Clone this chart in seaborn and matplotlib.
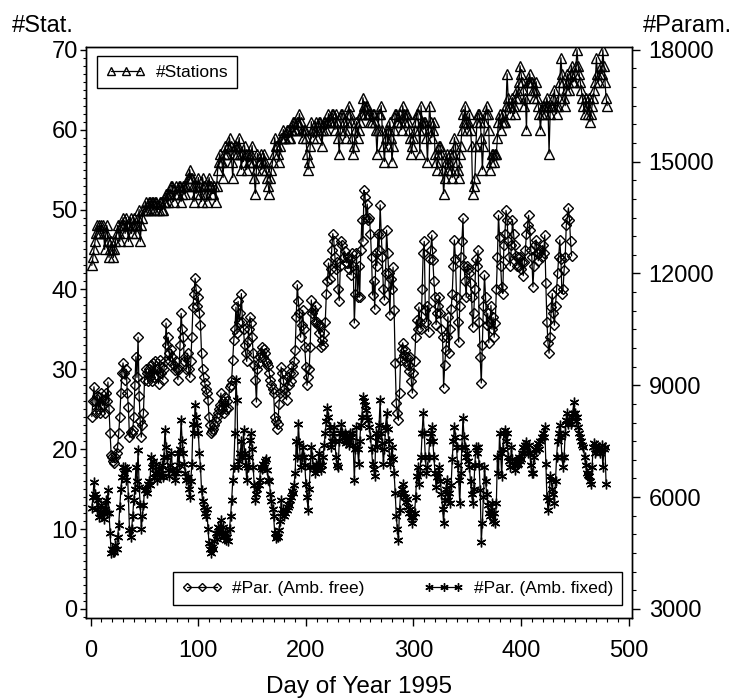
import numpy as np
import matplotlib
matplotlib.use('Agg')
import matplotlib.pyplot as plt
import seaborn as sns
from matplotlib.ticker import MultipleLocator
from matplotlib.lines import Line2D

# Anzahl Stationen pro Tag (linke Achse), Tag 1..480
stations = [
    43, 44, 45, 46, 47, 48, 47, 48, 47, 48, 48, 47, 45, 47, 48, 46, 44, 45, 46, 45,
    44, 45, 46, 47, 48, 47, 46, 48, 48, 49, 48, 47, 49, 48, 46, 48, 49, 47, 48, 49,
    48, 47, 48, 49, 50, 46, 48, 49, 50, 50, 51, 50, 50, 51, 51, 50, 51, 51, 50, 51,
    51, 50, 50, 51, 51, 50, 50, 51, 51, 52, 52, 51, 52, 52, 53, 53, 51, 52, 53, 52,
    52, 53, 53, 51, 52, 53, 53, 52, 53, 54, 54, 55, 54, 54, 53, 51, 53, 52, 53, 54,
    53, 52, 51, 54, 53, 53, 52, 51, 53, 54, 53, 53, 52, 52, 53, 51, 53, 55, 56, 57,
    56, 56, 54, 57, 58, 57, 57, 58, 59, 58, 56, 54, 57, 58, 58, 57, 58, 59, 57, 55,
    57, 56, 58, 57, 55, 57, 56, 56, 57, 58, 56, 54, 52, 55, 57, 56, 56, 57, 55, 56,
    57, 56, 55, 54, 53, 52, 54, 55, 56, 57, 59, 58, 58, 57, 56, 58, 59, 59, 60, 59,
    59, 60, 60, 59, 59, 60, 60, 61, 61, 60, 60, 61, 61, 62, 61, 60, 59, 60, 60, 59,
    57, 55, 56, 58, 61, 60, 59, 60, 61, 59, 60, 61, 61, 60, 58, 60, 61, 61, 60, 61,
    62, 61, 61, 62, 62, 61, 60, 62, 61, 59, 57, 60, 62, 62, 61, 60, 59, 61, 62, 63,
    62, 61, 59, 57, 58, 60, 61, 59, 60, 61, 62, 62, 64, 63, 62, 63, 63, 62, 62, 61,
    61, 62, 62, 61, 60, 57, 60, 62, 62, 63, 60, 58, 56, 59, 60, 58, 60, 61, 59, 56,
    58, 60, 62, 62, 61, 61, 62, 61, 60, 63, 62, 61, 62, 62, 61, 60, 59, 57, 58, 59,
    60, 61, 62, 62, 60, 57, 63, 61, 60, 61, 61, 59, 56, 60, 63, 61, 59, 60, 61, 57,
    56, 55, 57, 58, 58, 57, 55, 52, 54, 56, 57, 55, 56, 57, 55, 54, 57, 59, 58, 56,
    55, 54, 57, 58, 60, 62, 61, 63, 61, 60, 61, 62, 60, 58, 52, 53, 54, 58, 61, 62,
    62, 61, 59, 55, 58, 61, 62, 63, 62, 60, 55, 56, 57, 57, 56, 57, 57, 59, 61, 62,
    60, 61, 62, 61, 61, 63, 67, 64, 63, 62, 63, 64, 63, 62, 64, 65, 64, 66, 68, 67,
    66, 65, 63, 64, 60, 66, 66, 67, 66, 66, 65, 64, 65, 66, 64, 63, 62, 60, 62, 63,
    63, 62, 63, 64, 63, 57, 62, 63, 63, 64, 65, 63, 62, 63, 64, 66, 69, 67, 66, 64,
    63, 65, 67, 66, 65, 67, 68, 66, 66, 67, 68, 70, 68, 67, 66, 65, 64, 63, 62, 64,
    63, 62, 64, 61, 62, 63, 64, 65, 66, 69, 67, 66, 67, 68, 67, 70, 68, 66, 64, 63,
]

# Anzahl Parameter, Mehrdeutigkeiten frei (rechte Achse), Tag 1..447
par_free = [
    8160, 8570, 8960, 8570, 8270, 8720, 8360, 8680, 8250, 8790, 8460, 8610, 8250, 8790, 8570, 9090, 8360, 7710, 7140, 7070,
    6960, 6920, 7070, 7180, 7350, 7710, 8140, 8790, 9320, 9600, 9320, 9150, 9430, 8790, 8420, 7610, 7760, 7710, 7800, 8140,
    9000, 9770, 9210, 10290, 8720, 8040, 7610, 7930, 8270, 9150, 9430, 9320, 9110, 9430, 9210, 9540, 9110, 9600, 9210, 9640,
    9280, 9430, 9040, 9690, 9320, 9490, 9150, 9430, 9640, 10670, 10070, 10290, 9860, 9640, 9960, 9750, 9540, 9410, 9640, 9430,
    9150, 9430, 10070, 10930, 10500, 10290, 9640, 9750, 9430, 9860, 9430, 9210, 9640, 10290, 11100, 11460, 11870, 11570, 11140, 11360,
    10930, 10610, 9860, 9430, 9210, 9060, 8890, 8790, 8610, 8140, 7930, 7710, 7780, 7820, 7930, 8040, 8140, 8250, 8360, 8460,
    8790, 8360, 8570, 8250, 8680, 8360, 8570, 8400, 8960, 9000, 9150, 9690, 10220, 10500, 11100, 10390, 11250, 10710, 10930, 11460,
    10710, 10500, 10070, 9860, 9640, 10180, 10500, 10840, 10670, 10290, 9860, 9540, 9150, 8550, 9430, 9600, 9750, 9860, 10030, 9750,
    9960, 9860, 9640, 9600, 9510, 9320, 9150, 9000, 8890, 8790, 8140, 8040, 7840, 7970, 8490, 8790, 9490, 9320, 9150, 8890,
    8790, 8610, 9210, 9000, 9320, 9110, 9510, 9320, 9640, 9940, 10840, 11700, 11250, 10930, 10290, 10610, 11010, 10500, 10030, 9490,
    9000, 9210, 9430, 10030, 11290, 10930, 11010, 10710, 11140, 10710, 10610, 10390, 10610, 10030, 10220, 10070, 10390, 10710, 11460, 11790,
    12280, 11850, 12110, 12640, 13070, 12860, 12430, 12130, 12320, 11570, 11270, 12210, 12860, 12750, 12430, 12600, 12320, 12280, 12430, 12130,
    12390, 11960, 12540, 12210, 10670, 11460, 12540, 11360, 12210, 11360, 12640, 13440, 12860, 14230, 14060, 13500, 13860, 13440, 13500, 13070,
    12430, 11420, 11790, 11040, 12540, 12210, 13070, 12640, 13840, 13070, 12430, 11570, 11290, 12000, 13160, 12560, 12000, 10890, 11850, 11570,
    12170, 11010, 9600, 8530, 8250, 8060, 8790, 9690, 9960, 10140, 9810, 9940, 9640, 9770, 9540, 9390, 9750, 9110, 8790, 9320,
    9640, 10290, 10760, 10500, 11100, 10710, 10500, 11570, 12540, 12860, 11010, 10710, 11140, 10440, 12390, 12640, 13030, 12360, 11790, 11360,
    10630, 10930, 11140, 11360, 10930, 10500, 10290, 8940, 9540, 9940, 10290, 10840, 9860, 10500, 11040, 11460, 12210, 12900, 12390, 11360,
    10710, 10160, 11140, 12430, 12860, 13480, 12210, 11790, 11360, 12210, 12110, 12000, 11740, 11360, 10560, 10930, 11570, 12390, 12210, 12620,
    10710, 9770, 9060, 10070, 11140, 11960, 11360, 10610, 10930, 10140, 10670, 11140, 10500, 10820, 10290, 10670, 11570, 12430, 13560, 12990,
    12210, 11640, 11460, 12750, 13070, 13690, 13440, 12860, 12430, 12210, 12750, 13440, 13070, 12750, 12470, 12210, 12430, 12210, 12430, 12110,
    12320, 11940, 12300, 12640, 13070, 13290, 13560, 13160, 12640, 12430, 11640, 12210, 12750, 12900, 12540, 12340, 12540, 12640, 12430, 12750,
    12540, 13030, 11740, 10710, 10140, 9860, 10290, 11100, 11460, 10930, 10610, 11140, 11570, 12000, 12430, 12900, 12390, 11460, 11570, 12090,
    12430, 13290, 13500, 13760, 13440, 12860, 12470,
]

# Anzahl Parameter, Mehrdeutigkeiten fixiert (rechte Achse), Tag 1..479
par_fixed = [
    5700, 6000, 6410, 6090, 6000, 5680, 5910, 5460, 5570, 5790, 5570, 5420, 5680, 5910, 5570, 6190, 5570, 5040, 4500, 4610,
    4540, 4540, 4710, 4610, 4930, 5250, 5740, 6210, 6540, 6810, 6640, 6810, 6470, 6750, 6000, 5120, 4930, 5140, 5490, 5910,
    6210, 6810, 6430, 7260, 6280, 5790, 5140, 5490, 5790, 6190, 6210, 6110, 6360, 6430, 6320, 7070, 6810, 6960, 6540, 6640,
    6900, 6470, 6750, 6540, 6640, 6860, 6540, 7070, 7800, 7350, 7070, 6730, 6560, 6860, 7180, 6730, 6640, 6470, 6640, 6730,
    7180, 6860, 7290, 8060, 7500, 7180, 6900, 6640, 6470, 6540, 6210, 6000, 6430, 6900, 7970, 7710, 8460, 8160, 7930, 7710,
    7180, 6810, 6190, 5890, 5740, 5570, 5490, 5680, 5140, 4760, 4610, 4500, 4670, 4610, 4820, 5040, 4890, 5210, 5040, 5140,
    5400, 5040, 5210, 4930, 5040, 4840, 4930, 4820, 5140, 5490, 5910, 6450, 6810, 7710, 9150, 8610, 6810, 6960, 7180, 7500,
    7070, 7800, 7180, 6860, 6450, 6810, 7070, 7520, 7710, 7290, 6810, 6320, 5910, 6090, 6210, 6320, 6470, 6810, 6750, 6900,
    6810, 6960, 7010, 6730, 6470, 6430, 6090, 5890, 5680, 5490, 5040, 4910, 4970, 4930, 5120, 5360, 5910, 5570, 5680, 5490,
    5570, 5660, 5740, 5790, 5910, 6000, 6170, 6110, 6320, 6640, 7500, 7070, 7970, 7440, 6810, 7070, 7350, 7070, 6860, 6360,
    6000, 5660, 6210, 6810, 7350, 7070, 6810, 6640, 6860, 6730, 6860, 7180, 6900, 6730, 6860, 7070, 7390, 7710, 8040, 8380,
    8140, 7890, 7350, 7500, 7710, 7890, 7500, 7070, 6860, 6810, 7500, 7710, 7970, 7710, 7610, 7710, 7440, 7610, 7500, 7390,
    7710, 7610, 7710, 7390, 6450, 7290, 7890, 7290, 6900, 7500, 7930, 8140, 8680, 8570, 8460, 8340, 8140, 8060, 7890, 7610,
    7290, 6900, 6750, 6560, 7710, 7350, 7610, 7930, 8610, 7710, 7440, 6900, 7290, 7890, 8250, 7820, 7500, 6900, 7070, 7350,
    7010, 6640, 6110, 5490, 5140, 4840, 5660, 6090, 6210, 6360, 6110, 6000, 5870, 5960, 5740, 5570, 5680, 5460, 5310, 5460,
    5570, 6000, 6560, 6810, 6360, 6640, 7070, 7710, 8250, 7710, 7070, 6640, 6810, 7070, 7500, 7710, 7890, 7500, 7070, 6640,
    6280, 6540, 6640, 6810, 6430, 6090, 5680, 5310, 5910, 6210, 6450, 5910, 6110, 5830, 6320, 7010, 7500, 7890, 7610, 7350,
    6860, 6450, 5830, 6640, 7350, 8120, 7610, 7350, 7070, 7180, 6960, 6810, 6430, 6090, 5830, 6210, 6860, 7350, 7180, 7350,
    6860, 6190, 4800, 5310, 6000, 6810, 6430, 6090, 5790, 5570, 5490, 5660, 5830, 5360, 5570, 5310, 5830, 7070, 6640, 7710,
    7180, 6560, 7290, 7710, 7800, 7500, 7710, 7070, 6960, 6810, 7350, 7010, 6860, 6730, 6960, 6860, 6900, 7070, 6960, 7010,
    7180, 7350, 7180, 7390, 7480, 7180, 7390, 7180, 6860, 6640, 6640, 7070, 7290, 7260, 7350, 7440, 7290, 7500, 7610, 7710,
    7610, 7890, 6900, 6000, 5660, 5910, 6560, 6450, 6210, 6090, 5830, 6430, 7070, 7500, 7710, 7930, 7610, 7070, 6810, 7070,
    7710, 8060, 8250, 7970, 8040, 7970, 8140, 8250, 8550, 8250, 8040, 8140, 7890, 7710, 7610, 7500, 7390, 7350, 7070, 6860,
    6640, 6600, 6560, 6430, 6360, 6810, 7350, 7440, 7180, 7390, 7290, 7350, 7180, 7260, 7390, 6810, 7290, 7350, 6360,
]

days_stat = np.arange(1, len(stations) + 1)
days_free = np.arange(1, len(par_free) + 1)
days_fixed = np.arange(1, len(par_fixed) + 1)

sns.set_style('ticks', rc={'axes.edgecolor': 'black', 'xtick.color': 'black',
                           'ytick.color': 'black', 'text.color': 'black',
                           'axes.labelcolor': 'black'})
plt.rcParams['font.family'] = ['Liberation Sans', 'DejaVu Sans']

fig = plt.figure(figsize=(7.39, 7.0), dpi=100)
ax = fig.add_axes([86 / 739, 82 / 700, 546 / 739, 571.3 / 700])
ax2 = ax.twinx()

line_kw = dict(color='black', linewidth=0.9, markerfacecolor='none',
               markeredgecolor='black', markeredgewidth=1.0)

sns.lineplot(x=days_stat, y=stations, ax=ax, marker='^', markersize=6.5, **line_kw)
sns.lineplot(x=days_free, y=par_free, ax=ax2, marker='D', markersize=4.6, **line_kw)
sns.lineplot(x=days_fixed, y=par_fixed, ax=ax2, marker=(6, 2, 0), markersize=7, **line_kw)

# Achsen
ax.set_xlim(-4.4, 503.1)
ax.set_ylim(-1.13, 70.38)
ax2.set_ylim(2758, 18082)

ax.xaxis.set_major_locator(MultipleLocator(100))
ax.xaxis.set_minor_locator(MultipleLocator(10))
ax.yaxis.set_major_locator(MultipleLocator(10))
ax.yaxis.set_minor_locator(MultipleLocator(1))
ax2.yaxis.set_major_locator(MultipleLocator(3000))
ax2.yaxis.set_minor_locator(MultipleLocator(500))

ax.tick_params(axis='y', which='major', length=4.5, width=1, pad=1.5, labelsize=17)
ax.tick_params(axis='y', which='minor', length=2.2, width=0.8)
ax.tick_params(axis='x', which='major', length=5.5, width=1, pad=10, labelsize=17)
ax.tick_params(axis='x', which='minor', length=2.8, width=0.8)
ax2.tick_params(axis='y', which='major', length=5.5, width=1, pad=6.5, labelsize=17)
ax2.tick_params(axis='y', which='minor', length=2.8, width=0.8)

for a in (ax, ax2):
    for s in a.spines.values():
        s.set_visible(True)
        s.set_linewidth(1)
        s.set_color('black')
ax.set_xlabel('')
ax.set_ylabel('')
ax2.set_ylabel('')

fig.text(12 / 739, 1 - 32 / 700, '#Stat.', fontsize=17, ha='left', va='baseline')
fig.text(643 / 739, 1 - 32 / 700, '#Param.', fontsize=17, ha='left', va='baseline')
fig.text(359 / 739, 7 / 700, 'Day of Year 1995', fontsize=17.5, ha='center', va='baseline')

# Legenden
h_stat = Line2D([], [], marker='^', markersize=5.5, **line_kw)
h_free = Line2D([], [], marker='D', markersize=4, **line_kw)
h_fixed = Line2D([], [], marker=(6, 2, 0), markersize=6, **line_kw)

leg_kw = dict(numpoints=3, handlelength=2.3, handletextpad=0.6, borderpad=0.5,
              fontsize=12.5, frameon=True, fancybox=False, framealpha=1,
              edgecolor='black', borderaxespad=0)

leg1 = ax2.legend([h_stat], ['#Stations'], loc='upper left',
                  bbox_to_anchor=(0.02, 0.984), **leg_kw)
leg1.get_frame().set_linewidth(1)
ax2.add_artist(leg1)

leg2 = ax2.legend([h_free, h_fixed], ['#Par. (Amb. free)', '#Par. (Amb. fixed)'],
                  loc='lower right', bbox_to_anchor=(0.9817, 0.0228), ncol=2,
                  columnspacing=3.4, **leg_kw)
leg2.get_frame().set_linewidth(1)

fig.savefig('out.png', dpi=100)
